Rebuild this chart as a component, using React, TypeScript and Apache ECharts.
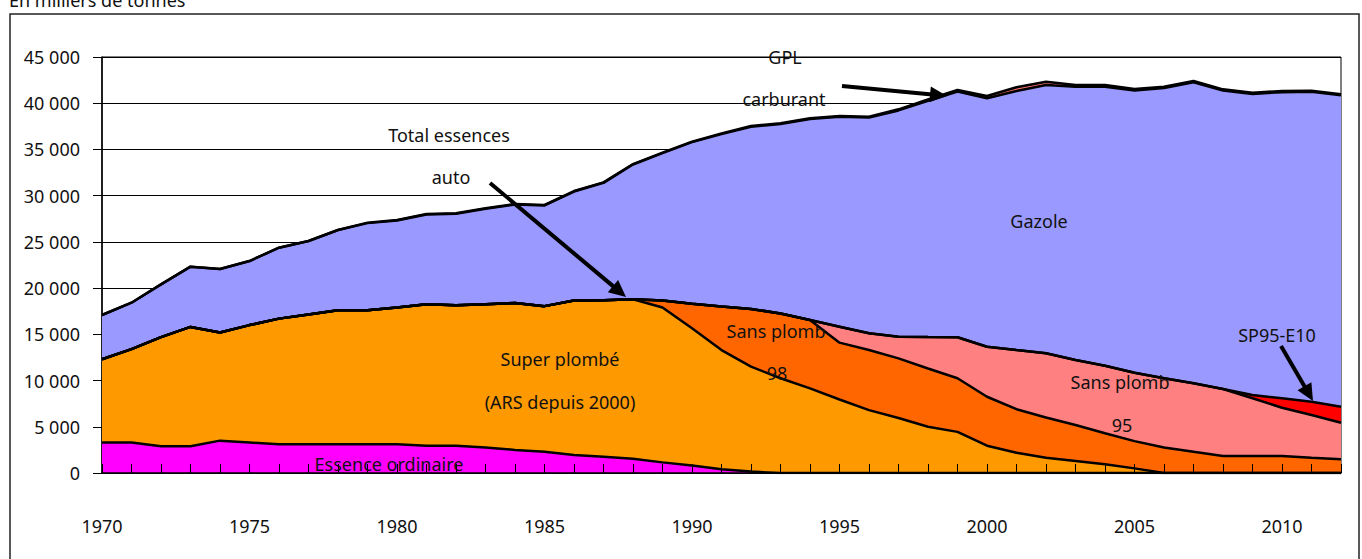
import React, { useEffect, useRef } from "react";
import * as echarts from "echarts";

const years = [
  "1970", "1971", "1972", "1973", "1974", "1975", "1976", "1977", "1978", "1979",
  "1980", "1981", "1982", "1983", "1984", "1985", "1986", "1987", "1988", "1989",
  "1990", "1991", "1992", "1993", "1994", "1995", "1996", "1997", "1998", "1999",
  "2000", "2001", "2002", "2003", "2004", "2005", "2006", "2007", "2008", "2009",
  "2010", "2011", "2012",
];

const essenceOrdinaire = [
  3300, 3300, 2900, 2900, 3500, 3300, 3100, 3100, 3100, 3100,
  3100, 2950, 2950, 2750, 2500, 2300, 1950, 1750, 1550, 1150,
  800, 400, 150, 0, 0, 0, 0, 0, 0, 0,
  0, 0, 0, 0, 0, 0, 0, 0, 0, 0,
  0, 0, 0,
];

const superPlombe = [
  9000, 10100, 11800, 12900, 11700, 12700, 13600, 14050, 14500, 14500,
  14800, 15300, 15200, 15500, 15900, 15750, 16700, 16950, 17250, 16750,
  14850, 12900, 11350, 10250, 9150, 7950, 6800, 5950, 5000, 4450,
  2950, 2200, 1650, 1300, 950, 500, 0, 0, 0, 0,
  0, 0, 0,
];

const sansPlomb98 = [
  0, 0, 0, 0, 0, 0, 0, 0, 0, 0,
  0, 0, 0, 0, 0, 0, 0, 0, 0, 750,
  2650, 4700, 6250, 7000, 7400, 6150, 6500, 6450, 6300, 5800,
  5300, 4700, 4350, 3900, 3350, 2950, 2750, 2300, 1850, 1850,
  1850, 1650, 1500,
];

const sansPlomb95 = [
  0, 0, 0, 0, 0, 0, 0, 0, 0, 0,
  0, 0, 0, 0, 0, 0, 0, 0, 0, 0,
  0, 0, 0, 0, 0, 1730, 1810, 2350, 3400, 4430,
  5410, 6400, 6950, 7020, 7310, 7400, 7490, 7400, 7240, 6230,
  5210, 4620, 3940,
];

const sp95E10 = [
  0, 0, 0, 0, 0, 0, 0, 0, 0, 0,
  0, 0, 0, 0, 0, 0, 0, 0, 0, 0,
  0, 0, 0, 0, 0, 0, 0, 0, 0, 0,
  0, 0, 0, 0, 0, 0, 0, 0, 0, 360,
  1020, 1440, 1730,
];

const gazole = [
  4790, 5020, 5700, 6520, 6870, 6930, 7670, 7950, 8690, 9430,
  9420, 9720, 9900, 10330, 10650, 10890, 11800, 12690, 14570, 15950,
  17490, 18660, 19700, 20500, 21740, 22710, 23340, 24470, 25570, 26580,
  26870, 28020, 29030, 29550, 30180, 30530, 31400, 32560, 32280, 32570,
  33120, 33540, 33690,
];

const gplCarburant = [
  0, 0, 0, 0, 0, 0, 0, 0, 0, 50,
  50, 50, 50, 50, 50, 50, 50, 50, 50, 50,
  50, 80, 80, 80, 80, 80, 100, 120, 150, 180,
  250, 400, 350, 200, 180, 160, 150, 140, 130, 130,
  120, 110, 100,
];

const seriesNames = [
  "Essence ordinaire",
  "Super plombé",
  "Sans plomb 98",
  "Sans plomb 95",
  "SP95-E10",
  "Gazole",
  "GPL carburant",
];
const seriesValues = [essenceOrdinaire, superPlombe, sansPlomb98, sansPlomb95, sp95E10, gazole, gplCarburant];
const seriesColors = ["#FF00FF", "#FF9900", "#FF6600", "#FF8080", "#FF0000", "#9999FF", "#FF7070"];

const FONT = "'Noto Sans', sans-serif";

function label(text: string, x: number, y: number) {
  return {
    type: "text",
    x,
    y,
    z: 100,
    style: {
      text,
      fill: "#111",
      font: `18px ${FONT}`,
      align: "center",
      verticalAlign: "middle",
    },
  };
}

function arrow(x1: number, y1: number, x2: number, y2: number) {
  const dx = x2 - x1;
  const dy = y2 - y1;
  const len = Math.sqrt(dx * dx + dy * dy);
  const ux = dx / len;
  const uy = dy / len;
  const headLen = 17;
  const headW = 8;
  const bx = x2 - ux * headLen;
  const by = y2 - uy * headLen;
  return [
    {
      type: "line",
      z: 100,
      shape: { x1, y1, x2: bx + ux * 2, y2: by + uy * 2 },
      style: { stroke: "#000", lineWidth: 4 },
    },
    {
      type: "polygon",
      z: 100,
      shape: {
        points: [
          [x2, y2],
          [bx - uy * headW, by + ux * headW],
          [bx + uy * headW, by - ux * headW],
        ],
      },
      style: { fill: "#000" },
    },
  ];
}

export default function App() {
  const ref = useRef<HTMLDivElement>(null);

  useEffect(() => {
    if (!ref.current) return;
    const chart = echarts.init(ref.current, null, { renderer: "svg" });
    const series = seriesNames.map((name, i) => ({
      name,
      type: "line",
      stack: "total",
      data: seriesValues[i],
      symbol: "none",
      showSymbol: false,
      lineStyle: { color: "#000", width: 2.5 },
      areaStyle: { color: seriesColors[i], opacity: 1 },
      itemStyle: { color: seriesColors[i] },
      emphasis: { disabled: true },
    }));

    chart.setOption({
      animation: false,
      textStyle: { fontFamily: FONT },
      grid: {
        left: 102,
        right: 21,
        top: 57,
        bottom: 86,
        show: true,
        borderColor: "#000",
        borderWidth: 1,
        backgroundColor: "transparent",
      },
      xAxis: {
        type: "category",
        data: years,
        z: 10,
        boundaryGap: false,
        axisLine: { show: true, lineStyle: { color: "#000", width: 1.5 } },
        axisTick: { show: true, inside: true, length: 9, interval: 0, lineStyle: { color: "#000" } },
        axisLabel: {
          interval: 4,
          margin: 44,
          color: "#111",
          fontSize: 18,
          fontFamily: FONT,
        },
        splitLine: { show: false },
      },
      yAxis: {
        type: "value",
        min: 0,
        max: 45000,
        interval: 5000,
        axisLine: { show: true, lineStyle: { color: "#000", width: 1.5 } },
        axisTick: { show: true, length: 9, lineStyle: { color: "#000" } },
        axisLabel: {
          margin: 22,
          color: "#111",
          fontSize: 18,
          fontFamily: FONT,
          formatter: (v: number) => (v === 0 ? "0" : `${Math.round(v / 1000)} 000`),
        },
        splitLine: { show: true, lineStyle: { color: "#000", width: 1 } },
      },
      series,
      graphic: [
        {
          type: "rect",
          shape: { x: 10, y: 14, width: 1349, height: 600 },
          style: { fill: "none", stroke: "#222", lineWidth: 1.5 },
          z: 0,
        },
        {
          type: "text",
          x: 9,
          y: 9,
          style: {
            text: "En milliers de tonnes",
            fill: "#111",
            font: `18px ${FONT}`,
            align: "left",
            verticalAlign: "bottom",
          },
        },
        label("GPL", 785, 57),
        label("carburant", 784, 99),
        label("Total essences", 449, 135),
        label("auto", 451, 177),
        label("Gazole", 1039, 221),
        label("Sans plomb", 776, 331),
        label("98", 777, 373),
        label("Super plombé", 560, 359),
        label("(ARS depuis 2000)", 560, 402),
        label("Sans plomb", 1120, 382),
        label("95", 1122, 425),
        label("SP95-E10", 1277, 335),
        label("Essence ordinaire", 389, 464),
        ...arrow(490, 183, 626, 297),
        ...arrow(842, 86, 947, 96),
        ...arrow(1281, 346, 1313, 401),
      ],
    });
    return () => chart.dispose();
  }, []);

  return (
    <div
      ref={ref}
      style={{ position: "absolute", left: 0, top: 0, width: 1362, height: 559 }}
    />
  );
}
